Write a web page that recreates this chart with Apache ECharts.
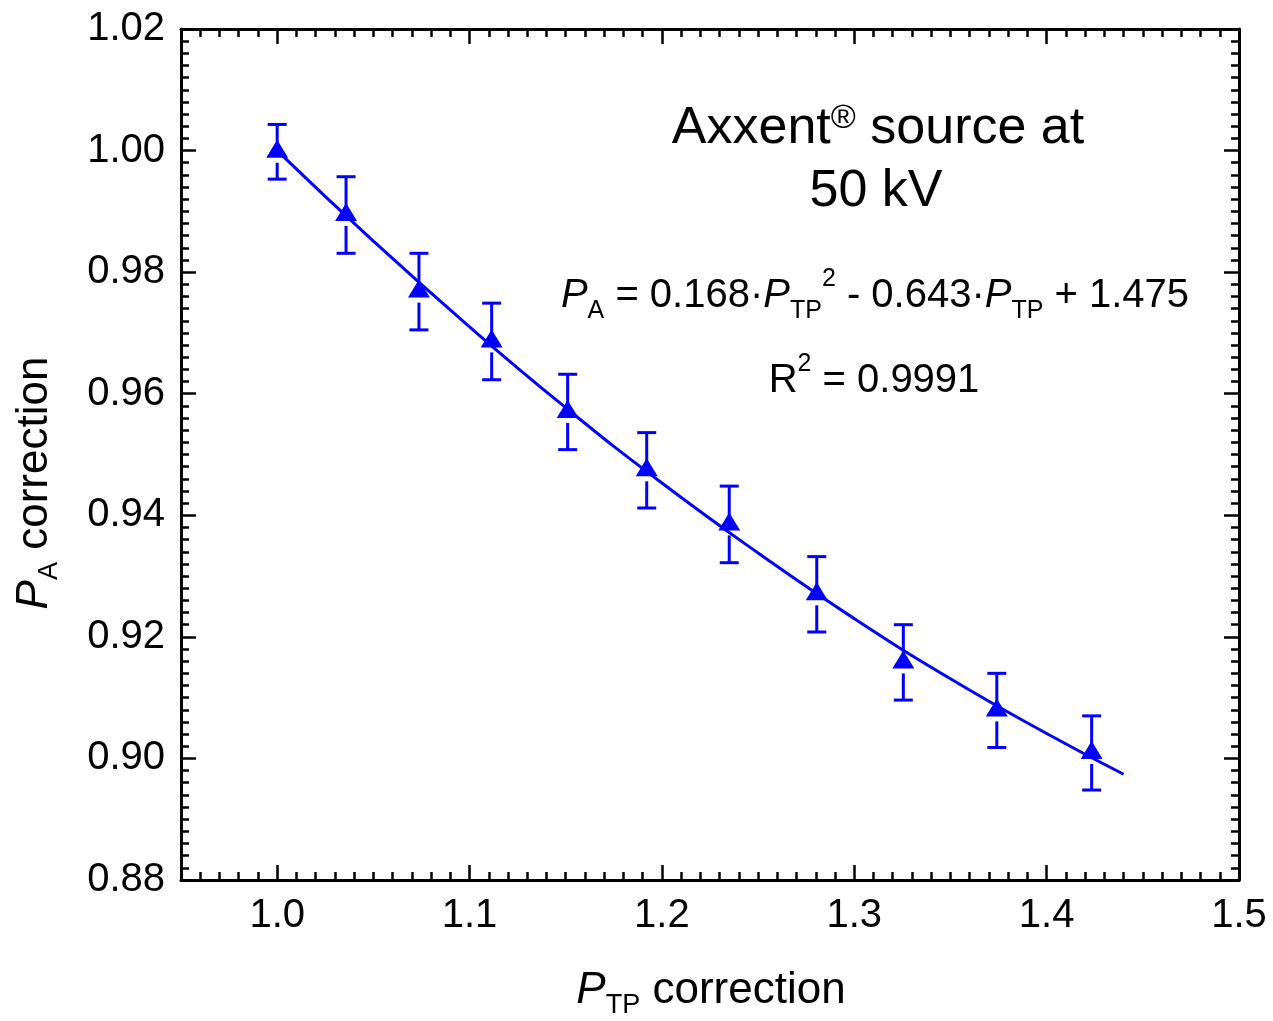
<!DOCTYPE html>
<html>
<head>
<meta charset="utf-8">
<script src="https://cdn.jsdelivr.net/npm/echarts@6/dist/echarts.min.js"></script>
<style>
html,body{margin:0;padding:0;background:#fff;}
#chart{width:1273px;height:1021px;}
</style>
</head>
<body>
<div id="chart"></div>
<script>
// ---- data ----
var ptX   = [1.000, 1.0358, 1.0737, 1.1115, 1.1510, 1.1921, 1.2350, 1.2805, 1.3255, 1.3741, 1.4234];
var ptY   = [0.9998, 0.9894, 0.9768, 0.9686, 0.9570, 0.9474, 0.9385, 0.9270, 0.9158, 0.9079, 0.9009];
var ptErr = [0.0045, 0.0063, 0.0063, 0.0063, 0.0062, 0.0062, 0.0063, 0.0062, 0.0062, 0.0061, 0.0061];
var fitX  = [1.00, 1.05, 1.10, 1.15, 1.20, 1.25, 1.30, 1.35, 1.40, 1.44];
var fitY  = [1.0000, 0.9851, 0.9710, 0.9577, 0.9453, 0.9338, 0.9230, 0.9131, 0.9041, 0.8974];
var xMajorTicks = [1.0, 1.1, 1.2, 1.3, 1.4, 1.5];
var yTickLabels = ['0.88','0.90','0.92','0.94','0.96','0.98','1.00','1.02'];

var FONT = '"Liberation Sans", Arial, Helvetica, sans-serif';
var BLUE = '#0000ff';

var chart = echarts.init(document.getElementById('chart'), null, {renderer:'canvas'});

var pts = ptX.map(function(x,i){ return [x, ptY[i], ptErr[i]]; });
var fit = fitX.map(function(x,i){ return [x, fitY[i]]; });

function xMajor(pos, labels){
  return {
    type:'value', gridIndex:0, position:pos, min:0.95, max:1.5, interval:0.05,
    axisLine:{show:true, onZero:false, lineStyle:{color:'#000', width:3}},
    axisTick:{show:true, inside:true, length:15, customValues:xMajorTicks, lineStyle:{color:'#000', width:2.5}},
    axisLabel:{show:labels, customValues:xMajorTicks, margin:16, color:'#000', fontSize:40, fontFamily:FONT,
      formatter:function(v){ return v.toFixed(1); }},
    splitLine:{show:false}
  };
}
function xMinor(pos){
  return {
    type:'value', gridIndex:0, position:pos, min:0.95, max:1.5, interval:0.01,
    axisLine:{show:false}, axisLabel:{show:false}, splitLine:{show:false},
    axisTick:{show:true, inside:true, length:8, lineStyle:{color:'#000', width:2.5}}
  };
}
function yAx(pos, labels){
  return {
    type:'value', gridIndex:0, position:pos, min:0.88, max:1.02, interval:0.02,
    axisLine:{show:true, onZero:false, lineStyle:{color:'#000', width:3}},
    axisTick:{show:true, inside:true, length:15, lineStyle:{color:'#000', width:2.5}},
    minorTick:{show:true, splitNumber:10, length:8, lineStyle:{color:'#000', width:2.5}},
    axisLabel:{show:labels, margin:16, color:'#000', fontSize:40, fontFamily:FONT,
      formatter:function(v){ return yTickLabels[Math.round((v-0.88)/0.02)] || v.toFixed(2); }},
    splitLine:{show:false}, minorSplitLine:{show:false}
  };
}

var option = {
  animation:false,
  backgroundColor:'#fff',
  grid:{left:181, right:34, top:29, bottom:141, containLabel:false},
  xAxis:[xMajor('bottom', true), xMinor('bottom'), xMajor('top', false), xMinor('top')],
  yAxis:[yAx('left', true), yAx('right', false)],
  series:[
    {
      type:'line', xAxisIndex:0, yAxisIndex:0, data:fit, smooth:true, symbol:'none',
      lineStyle:{color:BLUE, width:3}, z:2
    },
    {
      type:'custom', xAxisIndex:0, yAxisIndex:0, data:pts, encode:{x:0, y:1}, z:3,
      renderItem:function(params, api){
        var x = api.value(0), y = api.value(1), e = api.value(2);
        var c = api.coord([x,y]), t = api.coord([x,y+e]), b = api.coord([x,y-e]);
        var hw = 9.5, st = {stroke:BLUE, lineWidth:3};
        return {type:'group', children:[
          {type:'line', shape:{x1:c[0], y1:t[1], x2:c[0], y2:c[1]}, style:st},
          {type:'line', shape:{x1:c[0], y1:c[1]+11, x2:c[0], y2:b[1]}, style:st},
          {type:'line', shape:{x1:c[0]-hw, y1:t[1], x2:c[0]+hw, y2:t[1]}, style:st},
          {type:'line', shape:{x1:c[0]-hw, y1:b[1], x2:c[0]+hw, y2:b[1]}, style:st}
        ]};
      }
    },
    {
      type:'scatter', xAxisIndex:0, yAxisIndex:0, data:pts.map(function(p){return [p[0],p[1]];}),
      symbol:'triangle', symbolSize:[22,18], symbolOffset:[0,-3],
      itemStyle:{color:BLUE, opacity:1}, z:4
    }
  ],
  graphic:[
    { type:'text', x:878, y:129, z:10,
      style:{ text:'{m|Axxent}{s|®}{m| source at}', align:'center', verticalAlign:'middle',
        textAlign:'center', textVerticalAlign:'middle', fill:'#000',
        rich:{ m:{fontSize:52, fontFamily:FONT, fill:'#000'},
               s:{fontSize:34, fontFamily:FONT, fill:'#000', padding:[0,0,20,0]} } } },
    { type:'text', x:876, y:192, z:10,
      style:{ text:'50 kV', font:'52px '+FONT, fill:'#000', align:'center', verticalAlign:'middle',
        textAlign:'center', textVerticalAlign:'middle' } },
    { type:'text', x:875, y:296, z:10,
      style:{ text:'{i|P}{b|A}{m| = 0.168·}{i|P}{b|TP}{p|2}{m| - 0.643·}{i|P}{b|TP}{m| + 1.475}',
        align:'center', verticalAlign:'middle', textAlign:'center', textVerticalAlign:'middle', fill:'#000',
        rich:{ m:{fontSize:40, fontFamily:FONT, fill:'#000'},
               i:{fontSize:40, fontFamily:FONT, fontStyle:'italic', fill:'#000'},
               b:{fontSize:25, fontFamily:FONT, fill:'#000', padding:[30,0,0,0]},
               p:{fontSize:25, fontFamily:FONT, fill:'#000', padding:[0,0,34,0]} } } },
    { type:'text', x:874, y:381, z:10,
      style:{ text:'{m|R}{p|2}{m| = 0.9991}', align:'center', verticalAlign:'middle',
        textAlign:'center', textVerticalAlign:'middle', fill:'#000',
        rich:{ m:{fontSize:40, fontFamily:FONT, fill:'#000'},
               p:{fontSize:25, fontFamily:FONT, fill:'#000', padding:[0,0,34,0]} } } },
    { type:'text', x:711, y:991, z:10,
      style:{ text:'{i|P}{b|TP}{m| correction}', align:'center', verticalAlign:'middle',
        textAlign:'center', textVerticalAlign:'middle', fill:'#000',
        rich:{ m:{fontSize:44, fontFamily:FONT, fill:'#000'},
               i:{fontSize:44, fontFamily:FONT, fontStyle:'italic', fill:'#000'},
               b:{fontSize:27, fontFamily:FONT, fill:'#000', padding:[30,0,0,0]} } } },
    { type:'text', x:35, y:483, rotation:Math.PI/2, z:10,
      style:{ text:'{i|P}{b|A}{m| correction}', align:'center', verticalAlign:'middle',
        textAlign:'center', textVerticalAlign:'middle', fill:'#000',
        rich:{ m:{fontSize:44, fontFamily:FONT, fill:'#000'},
               i:{fontSize:44, fontFamily:FONT, fontStyle:'italic', fill:'#000'},
               b:{fontSize:27, fontFamily:FONT, fill:'#000', padding:[30,0,0,0]} } } }
  ]
};
chart.setOption(option);
</script>
</body>
</html>
